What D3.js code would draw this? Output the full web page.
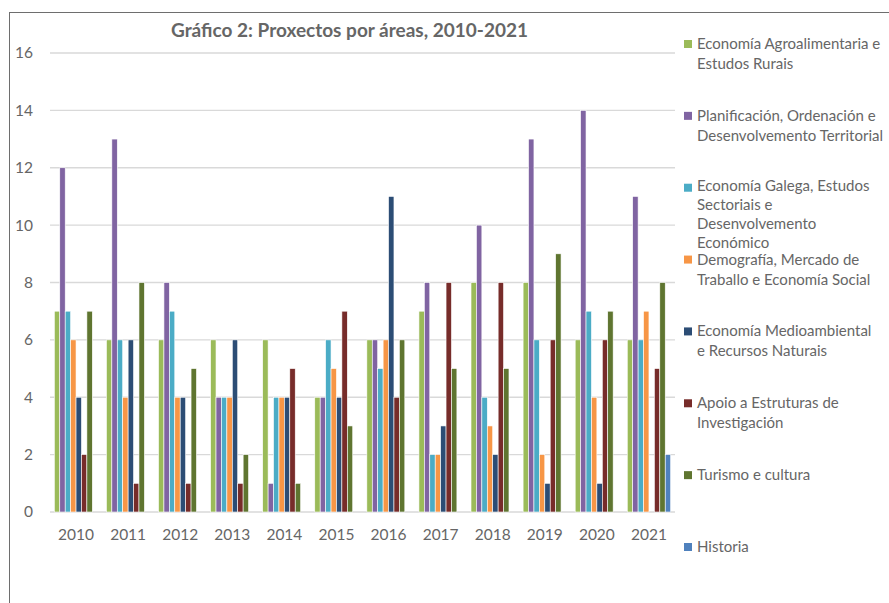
<!DOCTYPE html>
<html>
<head>
<meta charset="utf-8">
<script src="https://cdn.jsdelivr.net/npm/d3@7"></script>
<style>
  body { margin: 0; background: #fff; overflow: hidden; }
  text { font-family: Lato, "Open Sans", sans-serif; }
</style>
</head>
<body>
<svg width="889" height="603"></svg>
<script>
// anos e series (proxectos por área)
const years = ["2010","2011","2012","2013","2014","2015","2016","2017","2018","2019","2020","2021"];
const seriesNames = [
  "Economía Agroalimentaria e Estudos Rurais",
  "Planificación, Ordenación e Desenvolvemento Territorial",
  "Economía Galega, Estudos Sectoriais e Desenvolvemento Económico",
  "Demografía, Mercado de Traballo e Economía Social",
  "Economía Medioambiental e Recursos Naturais",
  "Apoio a Estruturas de Investigación",
  "Turismo e cultura",
  "Historia"
];
// liñas da lenda tal como aparecen
const legendLines = [
  ["Economía Agroalimentaria e", "Estudos Rurais"],
  ["Planificación, Ordenación e", "Desenvolvemento Territorial"],
  ["Economía Galega, Estudos", "Sectoriais e", "Desenvolvemento", "Económico"],
  ["Demografía, Mercado de", "Traballo e Economía Social"],
  ["Economía Medioambiental", "e Recursos Naturais"],
  ["Apoio a Estruturas de", "Investigación"],
  ["Turismo e cultura"],
  ["Historia"]
];
const agro      = [7, 6, 6, 6, 6, 4, 6, 7, 8, 8, 6, 6];
const planif    = [12,13, 8, 4, 1, 4, 6, 8,10,13,14,11];
const galega    = [7, 6, 7, 4, 4, 6, 5, 2, 4, 6, 7, 6];
const demog     = [6, 4, 4, 4, 4, 5, 6, 2, 3, 2, 4, 7];
const medio     = [4, 6, 4, 6, 4, 4,11, 3, 2, 1, 1, 0];
const apoio     = [2, 1, 1, 1, 5, 7, 4, 8, 8, 6, 6, 5];
const turismo   = [7, 8, 5, 2, 1, 3, 6, 5, 5, 9, 7, 8];
const historia  = [0, 0, 0, 0, 0, 0, 0, 0, 0, 0, 0, 2];
const yTicks = [0, 2, 4, 6, 8, 10, 12, 14, 16];
const colors = ["#9BBB59","#8064A2","#4BACC6","#F79646","#2C4D75","#772C2A","#5F7530","#4F81BD"];

const allSeries = [agro, planif, galega, demog, medio, apoio, turismo, historia];

const svg = d3.select("svg");

// marco do gráfico
svg.append("rect")
  .attr("x", 9.5).attr("y", 12.5)
  .attr("width", 900).attr("height", 620)
  .attr("fill", "none")
  .attr("stroke", "#6e6e6e")
  .attr("stroke-width", 1);

const plot = { left: 50, right: 675, top: 53, bottom: 512 };

const y = d3.scaleLinear().domain([0, 16]).range([plot.bottom, plot.top]);
const x0 = d3.scaleBand().domain(years).range([plot.left, plot.right])
  .paddingInner(0.167).paddingOuter(0.0835);
const x1 = d3.scaleBand().domain(d3.range(seriesNames.length)).range([0, x0.bandwidth()]);

// grella
svg.append("g")
  .selectAll("line")
  .data(yTicks)
  .join("line")
  .attr("x1", plot.left).attr("x2", plot.right)
  .attr("y1", d => y(d)).attr("y2", d => y(d))
  .attr("stroke", "#d9d9d9")
  .attr("stroke-width", 1.3);

// eixo y
const yAxis = svg.append("g")
  .attr("transform", `translate(${plot.left - 17},0)`)
  .call(d3.axisLeft(y).tickValues(yTicks).tickSize(0).tickPadding(0));
yAxis.select(".domain").remove();
yAxis.selectAll("text")
  .attr("fill", "#666").attr("font-size", 15.5)
  .style("font-family", "Lato, sans-serif");

// eixo x
const xAxis = svg.append("g")
  .attr("transform", `translate(0,${plot.bottom})`)
  .call(d3.axisBottom(x0).tickSize(0).tickPadding(17));
xAxis.select(".domain").remove();
xAxis.selectAll("text")
  .attr("fill", "#666").attr("font-size", 15.5)
  .style("font-family", "Lato, sans-serif");

// barras
const groups = svg.append("g")
  .selectAll("g")
  .data(years)
  .join("g")
  .attr("transform", d => `translate(${x0(d)},0)`);

groups.selectAll("rect")
  .data((yr, i) => allSeries.map((s, k) => ({ k, v: s[i] })).filter(d => d.v > 0))
  .join("rect")
  .attr("x", d => x1(d.k))
  .attr("width", x1.bandwidth())
  .attr("y", d => y(d.v))
  .attr("height", d => y(0) - y(d.v))
  .attr("fill", d => colors[d.k])
  .attr("stroke", "#fff")
  .attr("stroke-width", 0.6);

// título
svg.append("text")
  .attr("x", 349.5).attr("y", 37)
  .attr("text-anchor", "middle")
  .attr("font-size", 19)
  .attr("font-weight", "bold")
  .attr("fill", "#666")
  .text("Gráfico 2: Proxectos por áreas, 2010-2021");

// lenda
const legend = svg.append("g");
const legendY = d3.scaleLinear().domain([0, 7]).range([44, 547]);
const items = legend.selectAll("g")
  .data(seriesNames)
  .join("g")
  .attr("transform", (d, i) => `translate(684,${legendY(i)})`);
items.append("rect")
  .attr("x", 0).attr("y", -4)
  .attr("width", 8).attr("height", 8)
  .attr("fill", (d, i) => colors[i]);
items.append("text")
  .attr("fill", "#666")
  .attr("font-size", 15)
  .attr("transform", (d, i) => i === 2 ? "translate(0,-2)" : null)
  .selectAll("tspan")
  .data((d, i) => legendLines[i].map(t => ({ t, lh: i === 2 ? 19 : 20 })))
  .join("tspan")
  .attr("x", 13)
  .attr("y", (d, j) => 5 + j * d.lh)
  .text(d => d.t);
</script>
</body>
</html>
